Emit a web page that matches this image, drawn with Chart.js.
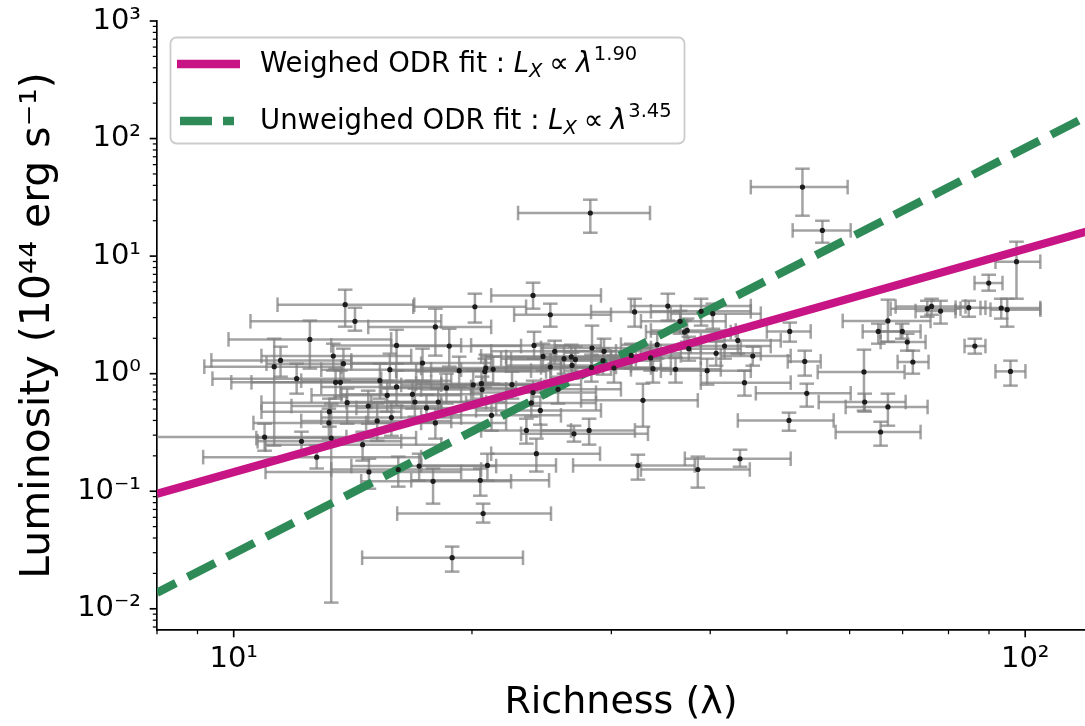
<!DOCTYPE html>
<html>
<head>
<meta charset="utf-8">
<script src="https://cdn.jsdelivr.net/npm/chart.js@4.4.1/dist/chart.umd.min.js"></script>
<style>
html,body{margin:0;padding:0;background:#fff;}
#wrap{position:relative;width:1085px;height:726px;overflow:hidden;}
#c{position:absolute;left:0;top:0;}
#legend{position:absolute;left:0;top:0;}
</style>
</head>
<body>
<div id="wrap">
<canvas id="c" width="1085" height="726"></canvas>
<svg id="legend" width="1085" height="726" xmlns="http://www.w3.org/2000/svg"></svg>
</div>
<script>
// ---- data ----
const lambda = [13.83,14.23,12.48,11.46,11.25,13.36,13.76,12.01,13.45,13.64,
13.91,13.21,13.19,13.28,10.94,12.18,12.73,23.89,20.17,25.12,
17.98,16.06,18.72,23.96,24.59,25.44,17.32,15.75,19.27,20.82,
21.27,20.76,25.12,15.30,16.06,20.07,20.56,22.47,18.57,20.60,
15.63,16.82,14.79,16.94,18.13,17.52,15.18,15.82,17.98,23.89,
23.77,24.40,21.17,23.43,14.55,24.12,14.82,16.14,17.15,20.92,
17.86,20.49,32.10,35.36,38.95,40.30,36.64,37.12,37.40,34.28,
43.34,41.70,28.36,29.37,26.14,26.70,27.02,26.76,31.79,37.58,
40.69,45.27,33.63,29.28,28.31,30.23,33.86,36.16,39.64,44.19,
25.69,32.89,26.91,28.12,32.41,38.58,43.62,20.66,18.88,28.22,
52.31,55.43,89.93,97.50,75.21,76.15,78.17,84.86,93.26,94.89,
67.07,50.41,65.22,69.94,70.96,86.37,52.66,72.12,62.56,95.81,
52.97,62.69,67.07,50.30,65.66];
const lambdaLo = [11.36,10.50,9.85,9.37,9.18,10.84,11.00,9.40,9.93,10.53,
10.84,10.84,10.59,10.68,7.875,10.72,9.15,21.15,16.86,22.61,
14.79,13.28,15.81,19.95,20.54,21.15,14.08,12.90,16.04,17.25,
17.76,17.00,20.84,12.17,12.90,16.28,17.00,18.29,15.36,17.25,
12.54,13.68,11.83,13.88,14.92,14.29,12.17,12.90,14.70,19.95,
19.66,20.24,17.25,20.54,10.97,21.15,10.97,13.28,14.08,17.25,
14.49,16.76,28.28,31.76,33.66,35.67,32.70,33.18,33.66,30.85,
38.92,37.80,24.45,25.54,21.77,22.09,22.41,22.09,28.28,32.70,
35.67,41.25,29.97,25.17,24.45,25.91,29.97,31.76,34.65,38.92,
22.09,27.47,23.07,24.45,26.84,32.70,37.15,16.09,14.53,22.87,
45.01,50.84,86.29,91.71,67.60,68.59,72.69,81.66,87.80,90.39,
58.80,47.16,62.32,65.66,65.66,83.82,50.12,68.99,54.68,91.71,
45.67,54.84,59.31,43.34,57.61];
const lambdaHi = [16.91,18.29,15.81,14.08,13.68,16.76,17.25,15.36,17.76,18.29,
18.29,16.28,17.25,17.00,13.88,16.28,17.25,29.11,23.41,29.97,
21.15,19.38,23.07,29.11,29.97,30.41,21.15,19.38,23.75,25.17,
25.91,24.81,30.41,18.83,19.95,24.45,25.17,27.47,22.74,24.81,
19.38,20.54,18.29,20.84,22.09,21.46,18.83,19.38,22.09,28.69,
28.69,29.11,25.91,26.68,18.29,29.03,19.38,20.54,21.46,25.54,
22.41,25.03,36.72,45.01,45.01,46.34,41.85,42.46,43.08,38.92,
49.11,47.70,33.66,34.65,30.85,31.76,32.22,31.76,36.72,43.72,
46.34,50.55,38.92,34.65,33.66,35.67,38.92,41.25,45.01,50.55,
30.85,38.58,33.37,32.13,38.24,44.88,50.55,25.17,23.20,33.57,
59.66,60.19,93.61,104.5,82.85,84.06,81.66,89.08,104.5,104.5,
75.93,53.58,69.60,73.76,74.84,89.08,55.16,75.49,70.41,100.07,
60.19,70.62,75.28,57.28,73.76];
const lum = [3.86,2.79,1.957,1.297,1.147,1.414,1.216,0.907,0.844,0.844,
0.567,0.475,0.381,0.283,0.289,0.266,0.195,4.63,3.71,3.17,
2.50,1.739,1.718,1.739,1.403,1.548,1.233,1.082,1.061,1.118,
1.088,1.046,1.140,0.872,0.771,0.802,0.822,0.806,0.756,0.732,
0.654,0.667,0.531,0.574,0.574,0.511,0.396,0.423,0.381,0.690,
0.564,0.487,0.442,0.329,0.249,0.2085,0.146,0.153,0.1637,0.1657,
0.1214,0.1238,3.35,3.76,3.39,3.24,2.79,2.259,2.331,1.764,
1.919,1.718,1.653,1.548,1.341,1.387,1.323,1.176,1.431,1.632,
1.489,1.414,1.360,1.290,1.130,1.118,1.103,1.088,1.061,0.839,
0.736,0.593,0.308,0.329,0.1657,0.153,0.189,0.0645,0.0272,23.26,
38.66,16.54,5.90,8.96,3.57,3.73,3.41,3.64,3.62,3.50,
2.81,2.286,2.286,2.286,1.859,1.718,1.272,1.257,1.034,1.046,
0.681,0.574,0.521,0.400,0.319];
const lumLo = [2.51,2.32,1.103,0.943,0.244,1.061,0.872,0.676,0.613,0.638,
0.375,0.354,0.280,0.01129,0.221,0.2085,0.156,3.57,2.72,2.51,
1.423,1.216,1.147,1.341,1.061,1.216,0.872,0.746,0.775,0.839,
0.822,0.775,0.872,0.613,0.534,0.589,0.613,0.613,0.556,0.556,
0.475,0.504,0.375,0.431,0.431,0.383,0.269,0.296,0.280,0.534,
0.431,0.368,0.327,0.254,0.182,0.147,0.105,0.1094,0.1231,0.1231,
0.0784,0.0916,2.51,2.83,2.563,2.41,2.185,1.799,1.871,1.341,
1.480,1.341,1.000,1.169,1.000,1.061,1.000,0.907,1.103,1.290,
1.169,1.169,1.061,0.981,0.855,0.839,0.839,0.839,0.806,0.650,
0.556,0.354,0.264,0.249,0.1255,0.1073,0.1616,0.0541,0.0207,15.81,
22.06,13.00,5.08,4.34,3.05,3.17,2.666,3.05,2.94,2.51,
1.871,1.871,1.799,1.984,1.569,1.480,0.962,1.000,0.485,0.791,
0.524,0.475,0.361,0.327,0.244];
const lumHi = [5.18,3.64,2.83,1.696,1.984,1.799,1.632,1.216,1.103,1.061,
0.746,0.613,0.504,0.556,0.375,0.321,0.244,5.94,4.79,3.94,
3.57,2.363,2.41,2.272,1.799,1.908,1.632,1.480,1.395,1.451,
1.395,1.341,1.480,1.216,1.061,1.061,1.061,1.040,1.000,0.943,
0.872,0.872,0.717,0.746,0.746,0.663,0.556,0.578,0.504,0.872,
0.717,0.638,0.578,0.414,0.321,0.280,0.189,0.197,0.2085,0.2085,
0.156,0.156,4.34,4.79,4.34,3.94,3.43,2.83,2.94,2.185,
2.41,2.101,2.563,1.984,1.730,1.764,1.696,1.509,1.799,2.061,
1.871,1.696,1.696,1.632,1.451,1.423,1.395,1.368,1.341,1.061,
0.943,0.822,0.361,0.414,0.2045,0.197,0.2255,0.0784,0.0338,30.20,
55.4,20.00,6.94,13.26,4.17,4.34,4.17,4.17,4.34,4.34,
4.26,2.72,2.666,2.666,2.185,1.984,1.569,1.569,1.600,1.290,
0.822,0.676,0.676,0.466,0.390];

// fit lines (end points)
const fitLambda = [8.0, 120];
const weighedFit = [0.095, 16.3];
const unweighedFit = [0.0137, 156];
const fitNames = ['Weighed ODR fit', 'Unweighed ODR fit'];
const fitExponents = ['1.90', '3.45'];

// axes
const xMajorTicks = [10, 100];
const yMajorTicks = [0.01, 0.1, 1, 10, 100, 1000];
const xRange = [8.0, 119];
const yRange = [0.0066, 1000];
const xTitle = 'Richness (λ)';
const yTitle = 'Luminosity (10⁴⁴ erg s⁻¹)';

// ---- styles ----
const MAGENTA = '#c71585';
const GREEN = '#2e8b57';
const BAR = 'rgba(128,128,128,0.72)';
const FONT = "'DejaVu Sans'";

const SUP = {'0':'⁰','1':'¹','2':'²','3':'³','4':'⁴','5':'⁵','6':'⁶','7':'⁷','8':'⁸','9':'⁹','-':'⁻'};
function pow10Label(v){
  const e = Math.round(Math.log10(v));
  return '10' + String(e).split('').map(c => SUP[c]).join('');
}

Chart.defaults.font.family = FONT;
Chart.defaults.color = '#000';

const datasets = [];
datasets.push({
  label: 'clusters',
  data: lambda.map((x, i) => ({x, y: lum[i]})),
  pointRadius: 2.6, pointBackgroundColor: '#1c1c1c', pointBorderWidth: 0,
  showLine: false, order: 0
});
datasets.push({
  label: fitNames[0],
  data: fitLambda.map((x, i) => ({x, y: weighedFit[i]})),
  showLine: true, borderColor: MAGENTA, borderWidth: 8.3, pointRadius: 0,
  borderCapStyle: 'butt', clip: 0, order: 1
});
datasets.push({
  label: fitNames[1],
  data: fitLambda.map((x, i) => ({x, y: unweighedFit[i]})),
  showLine: true, borderColor: GREEN, borderWidth: 8.3, pointRadius: 0,
  borderDash: [30.8, 13.3], borderDashOffset: 9.6,
  borderCapStyle: 'butt', clip: 0, order: 1
});
for (let i = 0; i < lambda.length; i++) {
  datasets.push({
    label: 'xerr' + i,
    data: [{x: lambdaLo[i], y: lum[i]}, {x: lambdaHi[i], y: lum[i]}],
    showLine: true, borderColor: BAR, borderWidth: 2.5,
    pointStyle: 'line', pointRotation: 90, pointRadius: 7.3,
    pointBorderColor: BAR, pointBorderWidth: 2.5, pointBackgroundColor: BAR,
    clip: 0, order: 2
  });
  datasets.push({
    label: 'yerr' + i,
    data: [{x: lambda[i], y: lumLo[i]}, {x: lambda[i], y: lumHi[i]}],
    showLine: true, borderColor: BAR, borderWidth: 2.5,
    pointStyle: 'line', pointRotation: 0, pointRadius: 7.3,
    pointBorderColor: BAR, pointBorderWidth: 2.5, pointBackgroundColor: BAR,
    clip: 0, order: 2
  });
}

function minorValues(range){
  const out = [];
  for (let e = -4; e <= 4; e++) {
    for (let m = 2; m <= 9; m++) {
      const v = m * Math.pow(10, e);
      if (v >= range[0] && v <= range[1]) out.push(v);
    }
  }
  return out;
}

const tickMarks = {
  id: 'tickMarks',
  afterDraw(chart) {
    const {ctx, chartArea: a, scales: {x, y}} = chart;
    ctx.save();
    ctx.strokeStyle = '#000';
    ctx.lineCap = 'butt';
    const dx = (v, len, w) => {
      const p = x.getPixelForValue(v);
      if (p < a.left - 0.5 || p > a.right + 0.5) return;
      ctx.lineWidth = w; ctx.beginPath(); ctx.moveTo(p, a.bottom); ctx.lineTo(p, a.bottom + len); ctx.stroke();
    };
    const dy = (v, len, w) => {
      const p = y.getPixelForValue(v);
      if (p < a.top - 0.5 || p > a.bottom + 0.5) return;
      ctx.lineWidth = w; ctx.beginPath(); ctx.moveTo(a.left, p); ctx.lineTo(a.left - len, p); ctx.stroke();
    };
    minorValues(xRange).forEach(v => dx(v, 4.2, 1.25));
    xMajorTicks.forEach(v => dx(v, 7.3, 1.67));
    minorValues(yRange).forEach(v => dy(v, 4.2, 1.25));
    yMajorTicks.forEach(v => dy(v, 7.3, 1.67));
    ctx.restore();
  }
};

const chart = new Chart(document.getElementById('c'), {
  type: 'scatter',
  data: {datasets},
  options: {
    responsive: false,
    devicePixelRatio: 1,
    animation: false,
    events: [],
    layout: {autoPadding: false, padding: {top: 21, left: 0, right: 0, bottom: 0}},
    plugins: {legend: {display: false}, tooltip: {enabled: false}},
    scales: {
      x: {
        type: 'logarithmic', position: 'bottom', min: xRange[0], max: xRange[1],
        afterBuildTicks: s => { s.ticks = xMajorTicks.map(v => ({value: v})); },
        afterFit: s => { s.height = 96; s.paddingLeft = 0; s.paddingRight = 0; },
        grid: {display: false, drawTicks: false},
        border: {display: true, color: '#000', width: 1.67},
        ticks: {autoSkip: false, maxRotation: 0, padding: 12, color: '#000',
                font: {size: 29}, callback: v => pow10Label(v)},
        title: {display: true, text: xTitle, color: '#000', font: {size: 38},
                padding: {top: 0, bottom: 0}}
      },
      y: {
        type: 'logarithmic', position: 'left', min: yRange[0], max: yRange[1],
        afterBuildTicks: s => { s.ticks = yMajorTicks.map(v => ({value: v})); },
        afterFit: s => { s.width = 157; s.paddingTop = 0; s.paddingBottom = 0; },
        grid: {display: false, drawTicks: false},
        border: {display: true, color: '#000', width: 1.67},
        ticks: {autoSkip: false, padding: 16, color: '#000',
                font: {size: 29}, callback: v => pow10Label(v)},
        title: {display: true, text: yTitle, color: '#000', font: {size: 41},
                padding: {top: 14, bottom: 0}}
      }
    }
  },
  plugins: [tickMarks]
});

// ---- legend (SVG text so that sub/superscripts stay real text) ----
(function buildLegend(){
  const svg = document.getElementById('legend');
  const rowY = [64, 121];
  const fitColors = [MAGENTA, GREEN];
  let html = '<rect x="170.5" y="37.5" width="514" height="106" rx="6" ry="6" fill="#ffffff" fill-opacity="0.8" stroke="#cccccc" stroke-width="1.8"/>';
  fitNames.forEach((name, i) => {
    const y = rowY[i];
    if (i === 0) {
      html += `<line x1="177" y1="${y}" x2="240" y2="${y}" stroke="${fitColors[i]}" stroke-width="8.3"/>`;
    } else {
      html += `<line x1="180" y1="${y}" x2="234" y2="${y}" stroke="${fitColors[i]}" stroke-width="8.3" stroke-dasharray="32 11"/>`;
    }
    html += `<text x="260" y="${y + 8}" font-family="DejaVu Sans" font-size="27.5" fill="#000">` +
      `${name} : <tspan font-style="italic">L</tspan>` +
      `<tspan font-style="italic" font-size="19.5" dy="5">X</tspan>` +
      `<tspan dy="-5" dx="7">∝</tspan>` +
      `<tspan font-style="italic" dx="7">λ</tspan>` +
      `<tspan font-size="19.5" dy="-12" dx="1.5">${fitExponents[i]}</tspan></text>`;
  });
  svg.innerHTML = html;
})();
</script>
</body>
</html>
